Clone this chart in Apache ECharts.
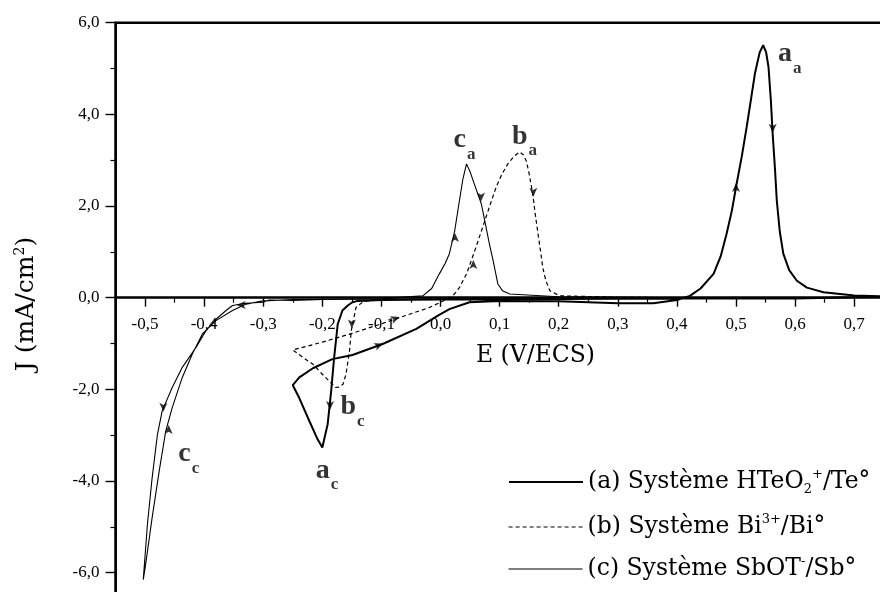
<!DOCTYPE html>
<html>
<head>
<meta charset="utf-8">
<script src="https://cdn.jsdelivr.net/npm/echarts@6/dist/echarts.min.js"></script>
<style>html,body{margin:0;padding:0;background:#fff}#c{width:880px;height:592px}</style>
</head>
<body>
<div id="c"></div>
<script>
// ---------- data (E in V/ECS, J in mA/cm2) ----------
const xMajorTicks = [-0.5,-0.4,-0.3,-0.2,-0.1,0,0.1,0.2,0.3,0.4,0.5,0.6,0.7];
const xMinorTicks = [-0.45,-0.35,-0.25,-0.15,-0.05,0.05,0.15,0.25,0.35,0.45,0.55,0.65];
const yMajorTicks = [-6,-4,-2,0,2,4,6];
const yMinorTicks = [-5,-3,-1,1,3,5];

const seriesNames = ['(a) Système HTeO2+/Te°', '(b) Système Bi3+/Bi°', '(c) Système SbOT-/Sb°'];
const legendRich = ['(a) Système HTeO{sub|2}{sup|+}/Te°', '(b) Système Bi{sup|3+}/Bi°', '(c) Système SbOT{sup|-}/Sb°'];

const curveA = [[0.75,0.02],[0.6,-0.02],[0.4,-0.02],[0.2,-0.03],[0.0,-0.04],[-0.1,-0.05],[-0.14,-0.07],[-0.149,-0.1],[-0.157,-0.17],[-0.166,-0.28],[-0.174,-0.58],[-0.18,-1.3],[-0.185,-2.03],[-0.191,-2.76],[-0.2,-3.27],[-0.208,-3.09],[-0.222,-2.69],[-0.239,-2.19],[-0.25,-1.91],[-0.239,-1.74],[-0.216,-1.54],[-0.183,-1.34],[-0.149,-1.25],[-0.098,-1.01],[-0.041,-0.68],[-0.003,-0.38],[0.015,-0.25],[0.049,-0.1],[0.1,-0.07],[0.2,-0.08],[0.3,-0.12],[0.36,-0.12],[0.4,-0.05],[0.422,0.04],[0.44,0.2],[0.462,0.52],[0.474,0.9],[0.484,1.39],[0.493,1.9],[0.501,2.48],[0.51,3.1],[0.518,3.72],[0.525,4.3],[0.532,4.89],[0.54,5.35],[0.546,5.51],[0.551,5.35],[0.555,5.03],[0.559,4.3],[0.562,3.58],[0.566,2.8],[0.569,2.12],[0.574,1.45],[0.58,0.96],[0.59,0.6],[0.603,0.37],[0.62,0.22],[0.648,0.12],[0.7,0.05],[0.75,0.03]];

const curveB = [[0.4,0.0],[0.2,-0.02],[0.0,-0.03],[-0.1,-0.04],[-0.13,-0.08],[-0.143,-0.21],[-0.151,-0.72],[-0.154,-1.16],[-0.16,-1.67],[-0.165,-1.89],[-0.172,-1.95],[-0.178,-1.96],[-0.183,-1.89],[-0.2,-1.67],[-0.216,-1.45],[-0.233,-1.3],[-0.25,-1.14],[-0.2,-0.97],[-0.15,-0.78],[-0.1,-0.57],[-0.05,-0.35],[-0.02,-0.22],[0.0,-0.1],[0.021,0.04],[0.032,0.22],[0.044,0.52],[0.06,1.1],[0.077,1.76],[0.094,2.41],[0.104,2.7],[0.114,2.92],[0.124,3.08],[0.134,3.18],[0.14,3.12],[0.145,2.99],[0.15,2.7],[0.156,2.27],[0.16,1.85],[0.165,1.39],[0.17,0.95],[0.173,0.66],[0.178,0.38],[0.185,0.15],[0.202,0.04],[0.3,0.01],[0.4,0.0]];

const curveC = [[0.4,0.0],[0.2,-0.02],[0.0,-0.03],[-0.2,-0.04],[-0.25,-0.06],[-0.29,-0.05],[-0.3,-0.1],[-0.33,-0.12],[-0.352,-0.17],[-0.363,-0.28],[-0.38,-0.47],[-0.397,-0.72],[-0.414,-1.09],[-0.437,-1.52],[-0.454,-1.96],[-0.471,-2.47],[-0.479,-2.98],[-0.488,-3.93],[-0.496,-4.95],[-0.503,-6.15],[-0.499,-5.82],[-0.488,-4.8],[-0.476,-3.78],[-0.465,-2.91],[-0.454,-2.4],[-0.437,-1.74],[-0.42,-1.23],[-0.403,-0.79],[-0.38,-0.5],[-0.352,-0.28],[-0.329,-0.14],[-0.3,-0.07],[-0.25,-0.04],[-0.1,-0.02],[-0.03,0.04],[-0.015,0.2],[-0.002,0.52],[0.008,0.75],[0.015,0.96],[0.024,1.46],[0.032,2.12],[0.038,2.6],[0.044,2.92],[0.05,2.75],[0.055,2.56],[0.069,2.05],[0.077,1.54],[0.083,1.15],[0.089,0.81],[0.097,0.3],[0.105,0.15],[0.117,0.08],[0.2,0.02],[0.4,0.0]];

// scan-direction arrows: [E, J, rotation deg]
const arrows = [[0.5,2.5,0],[0.562,3.6,180],[0.0245,1.41,0],[0.0685,2.1,180],[0.0555,0.82,0],[0.157,2.2,180],[-0.187,-2.45,180],[-0.469,-2.49,180],[-0.46,-2.78,0],[-0.15,-0.67,180],[-0.097,-1.0,-68],[-0.069,-0.42,-70],[-0.345,-0.16,90]];

// peak annotations: [letter, subscript, E, J]
const peakLabels = [['a','a',0.591,5.3],['b','a',0.142,3.5],['c','a',0.0406,3.42],['b','c',-0.149,-2.4],['a','c',-0.192,-3.79],['c','c',-0.426,-3.43]];

// ---------- chart ----------
const LIB = '"Liberation Serif","Times New Roman",serif';
const DJ = '"DejaVu Serif",serif';
const fmt = v => v.toFixed(1).replace('.', ',');

const X_MIN = -0.55, X_MAX = 0.75, Y_MIN = -6.5, Y_MAX = 6;
const GRID = {left:115.5, top:22.7, right:-3.75, bottom:-3.6};
const H = 592;
const gridH = H - GRID.top - GRID.bottom;
// shift the x axis from the grid bottom up to J = 0
const xAxisOffset = -gridH * (0 - Y_MIN) / (Y_MAX - Y_MIN);

const lineStyles = [
  {color:'#000', width:2, type:'solid'},
  {color:'#000', width:1.2, type:[4,3]},
  {color:'#000', width:1.1, type:'solid'}
];
const curves = [curveA, curveB, curveC];
const legendCenters = [482, 527, 569];

const chart = echarts.init(document.getElementById('c'), null, {renderer:'canvas'});
const option = {
  animation:false,
  backgroundColor:'#fff',
  grid:Object.assign({show:true, borderColor:'#000', borderWidth:2.5, backgroundColor:'transparent', containLabel:false, outerBoundsMode:'none'}, GRID),
  xAxis:[
    {type:'value', min:X_MIN, max:X_MAX, position:'bottom', offset:xAxisOffset,
     axisLine:{onZero:false, lineStyle:{color:'#000', width:2.5}},
     axisTick:{show:true, customValues:xMajorTicks, length:9, lineStyle:{color:'#000', width:1.4}},
     axisLabel:{show:true, customValues:xMajorTicks, formatter:fmt, margin:18, fontFamily:LIB, fontSize:17, color:'#000'},
     splitLine:{show:false}},
    {type:'value', min:X_MIN, max:X_MAX, position:'bottom', offset:xAxisOffset,
     axisLine:{show:false, onZero:false},
     axisTick:{show:true, customValues:xMinorTicks, length:5, lineStyle:{color:'#000', width:1.2}},
     axisLabel:{show:false}, splitLine:{show:false}}
  ],
  yAxis:[
    {type:'value', min:Y_MIN, max:Y_MAX, position:'left',
     axisLine:{show:true, onZero:false, lineStyle:{color:'#000', width:2}},
     axisTick:{show:true, customValues:yMajorTicks, length:10, lineStyle:{color:'#000', width:1.4}},
     axisLabel:{show:true, customValues:yMajorTicks, formatter:fmt, margin:16, fontFamily:LIB, fontSize:17, color:'#000'},
     splitLine:{show:false}},
    {type:'value', min:Y_MIN, max:Y_MAX, position:'left',
     axisLine:{show:false, onZero:false},
     axisTick:{show:true, customValues:yMinorTicks, length:5, lineStyle:{color:'#000', width:1.2}},
     axisLabel:{show:false}, splitLine:{show:false}}
  ],
  legend: seriesNames.map((n, i) => ({
    data:[n], left:508, top:legendCenters[i]-14, orient:'vertical', padding:0, itemGap:0,
    itemWidth:74, itemHeight:10, selectedMode:false,
    itemStyle:{opacity:0, borderWidth:0},
    lineStyle:Object.assign({}, lineStyles[i]),
    formatter:() => legendRich[i],
    textStyle:{fontFamily:DJ, fontSize:23.5, color:'#000', lineHeight:28,
      rich:{
        sup:{fontFamily:DJ, fontSize:13, lineHeight:13, verticalAlign:'top', color:'#000'},
        sub:{fontFamily:DJ, fontSize:13, lineHeight:11, verticalAlign:'bottom', color:'#000'}
      }}
  })),
  series: curves.map((d, i) => ({
    name:seriesNames[i], type:'line', data:d, symbol:'none', showSymbol:false,
    lineStyle:lineStyles[i], itemStyle:{color:'#000'}, z:3, silent:true
  })).concat([
    {type:'scatter', data:arrows.map(a => ({value:[a[0], a[1]], symbolRotate:a[2]})),
     symbol:'arrow', symbolSize:[6,9], itemStyle:{color:'#000'}, z:4, silent:true},
    {type:'scatter', data:peakLabels.map(l => ({value:[l[2], l[3]], name:l[0] + '_' + l[1]})),
     symbolSize:1, itemStyle:{color:'transparent'}, z:5, silent:true,
     label:{show:true, position:'inside', color:'#000',
       formatter:p => { const s = p.name.split('_'); return '{m|' + s[0] + '}{s|' + s[1] + '}'; },
       rich:{
         m:{fontFamily:LIB, fontWeight:'bold', fontSize:28, lineHeight:30, verticalAlign:'top', color:'#000'},
         s:{fontFamily:LIB, fontWeight:'bold', fontSize:17, lineHeight:17, padding:[20,0,0,1], verticalAlign:'top', color:'#000'}
       }}}
  ]),
  graphic:[
    {type:'text', x:535.5, y:356, silent:true,
     style:{text:'E (V/ECS)', fontFamily:DJ, fontSize:23.5, fill:'#000', align:'center', verticalAlign:'middle'}},
    {type:'text', x:26, y:304, rotation:Math.PI/2, silent:true,
     style:{text:'J (mA/cm{sup|2})', fontFamily:DJ, fontSize:25, fill:'#000', align:'center', verticalAlign:'middle',
       rich:{sup:{fontFamily:DJ, fontSize:14, lineHeight:14, verticalAlign:'top', fill:'#000'}}}}
  ]
};
chart.setOption(option);
</script>
</body>
</html>
